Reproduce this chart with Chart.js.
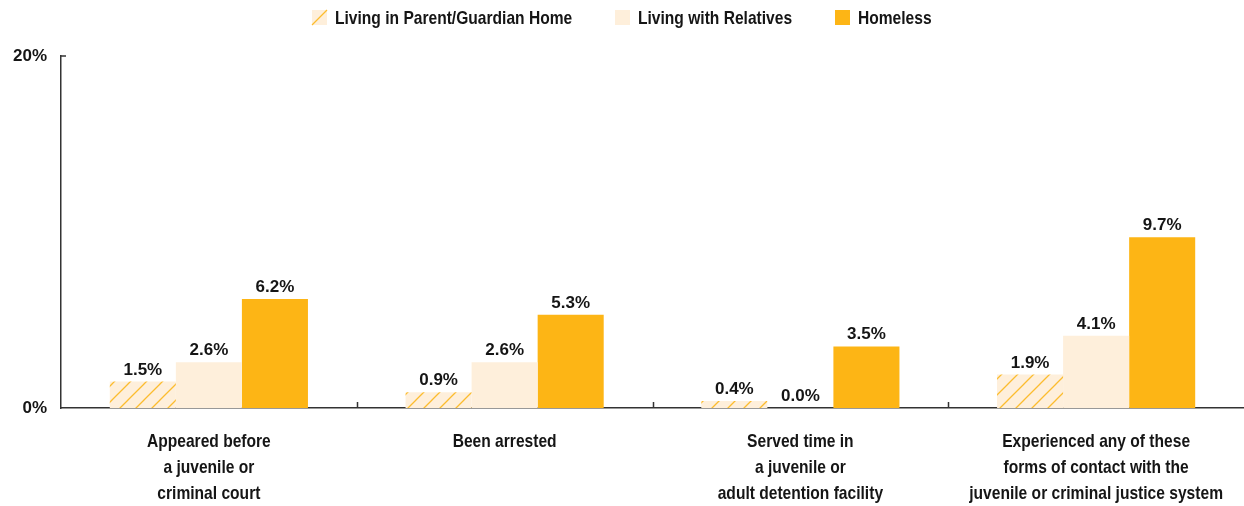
<!DOCTYPE html>
<html>
<head>
<meta charset="utf-8">
<script src="https://cdn.jsdelivr.net/npm/chart.js@4.4.1/dist/chart.umd.min.js"></script>
<style>
  html, body { margin: 0; padding: 0; background: #fff; }
  #wrap { width: 1244px; height: 506px; position: relative; }
</style>
</head>
<body>
<div id="wrap"><canvas id="chart"></canvas></div>
<script>
const categories = [
  ['Appeared before', 'a juvenile or', 'criminal court'],
  ['Been arrested'],
  ['Served time in', 'a juvenile or', 'adult detention facility'],
  ['Experienced any of these', 'forms of contact with the', 'juvenile or criminal justice system']
];
const seriesNames = ['Living in Parent/Guardian Home', 'Living with Relatives', 'Homeless'];
const parentHome = [1.5, 0.9, 0.4, 1.9];
const relatives = [2.6, 2.6, 0.0, 4.1];
const homeless = [6.2, 5.3, 3.5, 9.7];
const yTicks = [0, 20];

const gold = '#fdb515';
const cream = '#feefdb';
const ink = '#151515';
const axis = '#333';
const sans = '"Liberation Sans", Arial, sans-serif';
const condensed = 'bold 19px ' + sans;
const squeeze = 0.82; // no narrow face installed, so squeeze the bold sans

// diagonal hatch for the parent/guardian series
function hatch() {
    const c = document.createElement('canvas');
    c.width = 16; c.height = 16;
    const g = c.getContext('2d');
    g.fillStyle = cream;
    g.fillRect(0, 0, 16, 16);
    g.strokeStyle = '#fcbc2e';
    g.lineWidth = 1.3;
    g.beginPath();
    g.moveTo(-2, 18); g.lineTo(18, -2);
    g.moveTo(-4, 4); g.lineTo(4, -4);
    g.moveTo(12, 20); g.lineTo(20, 12);
    g.stroke();
    return g.createPattern(c, 'repeat');
}

function narrowText(ctx, text, x, y, align) {
    ctx.save();
    ctx.translate(x, y);
    ctx.scale(squeeze, 1);
    ctx.textAlign = align;
    ctx.fillText(text, 0, 0);
    ctx.restore();
}

const barLabels = {
    id: 'barLabels',
    afterDatasetsDraw(chart) {
        const ctx = chart.ctx;
        ctx.save();
        ctx.font = 'bold 17px ' + sans;
        ctx.fillStyle = ink;
        ctx.textAlign = 'center';
        ctx.textBaseline = 'alphabetic';
        chart.data.datasets.forEach((ds, i) => {
            chart.getDatasetMeta(i).data.forEach((bar, j) => {
                ctx.fillText(ds.data[j].toFixed(1) + '%', bar.x, bar.y - 7);
            });
        });
        ctx.restore();
    }
};

// category labels under the axis, plus the small inward tick marks
const categoryAxis = {
    id: 'categoryAxis',
    afterDraw(chart) {
        const { ctx, chartArea, scales: { x, y } } = chart;
        ctx.save();
        ctx.font = condensed;
        ctx.fillStyle = ink;
        ctx.textBaseline = 'middle';
        chart.data.labels.forEach((lines, i) => {
            lines.forEach((line, k) => {
                narrowText(ctx, line, x.getPixelForValue(i), chartArea.bottom + 34 + k * 26, 'center');
            });
        });
        ctx.strokeStyle = axis;
        ctx.lineWidth = 1.5;
        ctx.beginPath();
        for (let i = 1; i < categories.length; i++) {
            const px = Math.round((x.getPixelForValue(i - 1) + x.getPixelForValue(i)) / 2) + 0.5;
            ctx.moveTo(px, chartArea.bottom);
            ctx.lineTo(px, chartArea.bottom - 6);
        }
        const top = y.getPixelForValue(yTicks[yTicks.length - 1]);
        ctx.moveTo(chartArea.left, top);
        ctx.lineTo(chartArea.left + 5, top);
        ctx.stroke();
        ctx.restore();
    }
};

// legend drawn by hand so the spacing matches the reference
const topLegend = {
    id: 'topLegend',
    afterDraw(chart) {
        const ctx = chart.ctx;
        const box = 15, gap = 8, space = 43, midY = 17.5;
        ctx.save();
        ctx.font = condensed;
        const widths = chart.data.datasets.map(ds => box + gap + ctx.measureText(ds.label).width * squeeze);
        const total = widths.reduce((a, b) => a + b, 0) + space * (widths.length - 1);
        let cx = (chart.width - total) / 2;
        chart.data.datasets.forEach((ds, i) => {
            const bx = Math.round(cx), by = Math.round(midY - box / 2);
            if (i === 0) {
                ctx.fillStyle = cream;
                ctx.fillRect(bx, by, box, box);
                ctx.strokeStyle = '#fcbc2e';
                ctx.lineWidth = 1.3;
                ctx.beginPath();
                ctx.moveTo(bx, by + box);
                ctx.lineTo(bx + box, by);
                ctx.stroke();
            } else {
                ctx.fillStyle = ds.backgroundColor;
                ctx.fillRect(bx, by, box, box);
            }
            ctx.fillStyle = ink;
            ctx.textBaseline = 'middle';
            narrowText(ctx, ds.label, bx + box + gap, midY + 1, 'left');
            cx += widths[i] + space;
        });
        ctx.restore();
    }
};

const ctx = document.getElementById('chart').getContext('2d');
new Chart(ctx, {
    type: 'bar',
    data: {
        labels: categories,
        datasets: [
            { label: seriesNames[0], data: parentHome, backgroundColor: hatch() },
            { label: seriesNames[1], data: relatives, backgroundColor: cream },
            { label: seriesNames[2], data: homeless, backgroundColor: gold }
        ]
    },
    options: {
        responsive: true,
        maintainAspectRatio: false,
        animation: false,
        categoryPercentage: 0.67,
        barPercentage: 1.0,
        layout: { padding: { top: 56, right: 0, bottom: 98, left: 0 } },
        plugins: {
            legend: { display: false },
            tooltip: { enabled: false }
        },
        scales: {
            x: {
                grid: { display: false, drawTicks: false },
                border: { color: axis, width: 1.5 },
                ticks: { display: false }
            },
            y: {
                min: 0,
                max: 20,
                afterBuildTicks: s => { s.ticks = yTicks.map(v => ({ value: v })); },
                afterFit: s => { s.width = 61; },
                grid: { display: false, drawTicks: false },
                border: { color: axis, width: 1.5 },
                ticks: {
                    color: ink,
                    padding: 14,
                    font: { family: sans, size: 17, weight: 'bold' },
                    callback: v => v + '%'
                }
            }
        }
    },
    plugins: [barLabels, categoryAxis, topLegend]
});
</script>
</body>
</html>
